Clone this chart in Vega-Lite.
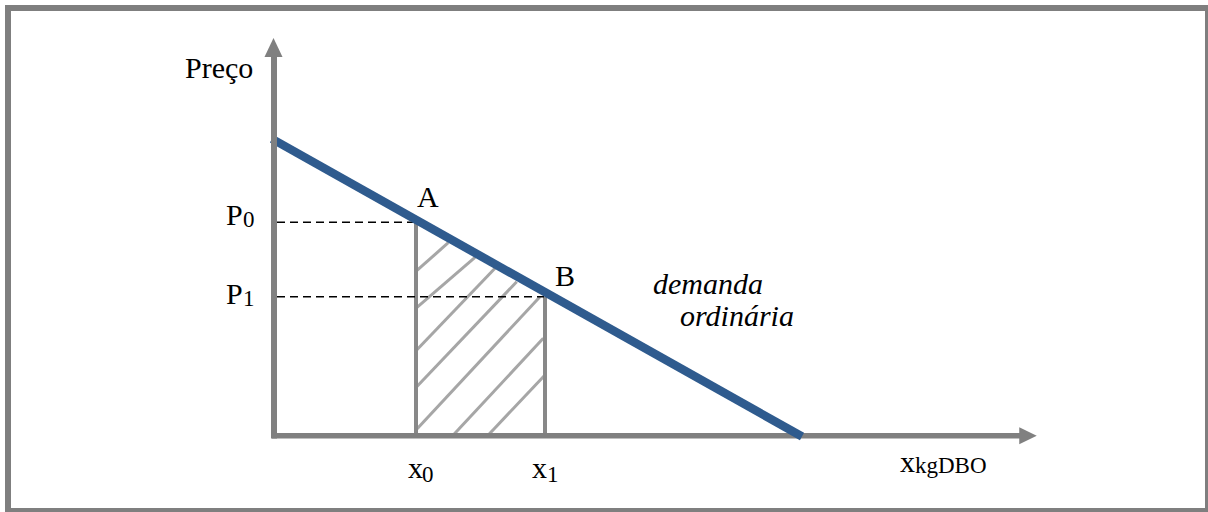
{
  "$schema": "https://vega.github.io/schema/vega-lite/v6.json",
  "width": 1208,
  "height": 512,
  "padding": 0,
  "autosize": {"type": "none"},
  "background": "white",
  "config": {"view": {"stroke": null}},
  "datasets": {
    "frame": [
      {"side": "left", "x": 8, "y": 5, "x2": 8, "y2": 512},
      {"side": "top", "x": 5, "y": 8, "x2": 1208, "y2": 8},
      {"side": "right", "x": 1206.5, "y": 5, "x2": 1206.5, "y2": 512},
      {"side": "bottom", "x": 5, "y": 510, "x2": 1208, "y2": 510}
    ],
    "hatch": [
      {"x": 416.7, "y": 270.7, "x2": 448.3, "y2": 242.7},
      {"x": 416.7, "y": 307.7, "x2": 475, "y2": 257.3},
      {"x": 416.7, "y": 350, "x2": 495, "y2": 268.3},
      {"x": 416.7, "y": 386.7, "x2": 516.7, "y2": 281.7},
      {"x": 416.7, "y": 429.3, "x2": 540, "y2": 296.7},
      {"x": 453.3, "y": 435, "x2": 543.3, "y2": 338.3},
      {"x": 488.3, "y": 435, "x2": 545, "y2": 375}
    ],
    "verticals": [
      {"x": 416, "y": 222, "x2": 416, "y2": 436},
      {"x": 545, "y": 296.7, "x2": 545, "y2": 436}
    ],
    "dashed": [
      {"x": 277, "y": 222.3, "x2": 415, "y2": 222.3},
      {"x": 277, "y": 296.7, "x2": 544, "y2": 296.7}
    ],
    "xaxis": [{"x": 272, "y": 435.8, "x2": 1020, "y2": 435.8}],
    "yaxis": [{"x": 274, "y": 438.5, "x2": 274, "y2": 56}],
    "demand": [{"x": 272, "y": 138.9, "x2": 802, "y2": 436.5}],
    "arrows": [
      {"dir": "up", "x": 273.5, "y": 47.5},
      {"dir": "right", "x": 1028, "y": 435.8}
    ],
    "labels": [
      {"label": "Preço", "x": 185, "y": 78},
      {"label": "P", "x": 226, "y": 225},
      {"label": "P", "x": 226, "y": 304},
      {"label": "A", "x": 417, "y": 207},
      {"label": "B", "x": 555, "y": 286},
      {"label": "x", "x": 408, "y": 478},
      {"label": "x", "x": 532, "y": 478},
      {"label": "x", "x": 900, "y": 472}
    ],
    "subscripts": [
      {"label": "0", "x": 243, "y": 227},
      {"label": "1", "x": 243, "y": 306},
      {"label": "0", "x": 422, "y": 482},
      {"label": "1", "x": 547, "y": 482},
      {"label": "kgDBO", "x": 915, "y": 473}
    ],
    "notes": [
      {"label": "demanda", "x": 653, "y": 294},
      {"label": "ordinária", "x": 680, "y": 326}
    ]
  },
  "encoding": {
    "x": {"field": "x", "type": "quantitative", "scale": {"domain": [0, 1208], "nice": false, "zero": false}, "axis": null},
    "y": {"field": "y", "type": "quantitative", "scale": {"domain": [0, 512], "reverse": true, "nice": false, "zero": false}, "axis": null}
  },
  "layer": [
    {
      "data": {"name": "frame"},
      "transform": [{"filter": "datum.side === 'left' || datum.side === 'top'"}],
      "mark": {"type": "rule", "color": "#7f7f7f", "strokeWidth": 6, "strokeCap": "butt"},
      "encoding": {"x2": {"field": "x2"}, "y2": {"field": "y2"}}
    },
    {
      "data": {"name": "frame"},
      "transform": [{"filter": "datum.side === 'right'"}],
      "mark": {"type": "rule", "color": "#7f7f7f", "strokeWidth": 3, "strokeCap": "butt"},
      "encoding": {"x2": {"field": "x2"}, "y2": {"field": "y2"}}
    },
    {
      "data": {"name": "frame"},
      "transform": [{"filter": "datum.side === 'bottom'"}],
      "mark": {"type": "rule", "color": "#7f7f7f", "strokeWidth": 4, "strokeCap": "butt"},
      "encoding": {"x2": {"field": "x2"}, "y2": {"field": "y2"}}
    },
    {
      "data": {"name": "hatch"},
      "mark": {"type": "rule", "color": "#a6a6a6", "strokeWidth": 3, "strokeCap": "butt"},
      "encoding": {"x2": {"field": "x2"}, "y2": {"field": "y2"}}
    },
    {
      "data": {"name": "verticals"},
      "mark": {"type": "rule", "color": "#888888", "strokeWidth": 4, "strokeCap": "butt"},
      "encoding": {"x2": {"field": "x2"}, "y2": {"field": "y2"}}
    },
    {
      "data": {"name": "dashed"},
      "mark": {"type": "rule", "color": "#000000", "strokeWidth": 1.6, "strokeDash": [8, 5], "strokeCap": "butt"},
      "encoding": {"x2": {"field": "x2"}, "y2": {"field": "y2"}}
    },
    {
      "data": {"name": "xaxis"},
      "mark": {"type": "rule", "color": "#808080", "strokeWidth": 5.5, "strokeCap": "butt"},
      "encoding": {"x2": {"field": "x2"}, "y2": {"field": "y2"}}
    },
    {
      "data": {"name": "demand"},
      "mark": {"type": "rule", "color": "#2f5b8e", "strokeWidth": 8.5, "strokeCap": "butt"},
      "encoding": {"x2": {"field": "x2"}, "y2": {"field": "y2"}}
    },
    {
      "data": {"name": "yaxis"},
      "mark": {"type": "rule", "color": "#808080", "strokeWidth": 6, "strokeCap": "butt"},
      "encoding": {"x2": {"field": "x2"}, "y2": {"field": "y2"}}
    },
    {
      "data": {"name": "arrows"},
      "transform": [{"filter": "datum.dir === 'up'"}],
      "mark": {"type": "point", "shape": "M0,-1L-0.95,1L0.95,1Z", "size": 361, "filled": true, "color": "#808080", "opacity": 1, "strokeWidth": 0}
    },
    {
      "data": {"name": "arrows"},
      "transform": [{"filter": "datum.dir === 'right'"}],
      "mark": {"type": "point", "shape": "M0.92,0L-0.92,-0.9L-0.92,0.9Z", "size": 361, "filled": true, "color": "#808080", "opacity": 1, "strokeWidth": 0}
    },
    {
      "data": {"name": "labels"},
      "mark": {"type": "text", "font": "Liberation Serif", "fontSize": 30, "align": "left", "baseline": "alphabetic", "color": "#000000"},
      "encoding": {"text": {"field": "label"}}
    },
    {
      "data": {"name": "subscripts"},
      "mark": {"type": "text", "font": "Liberation Serif", "fontSize": 23, "align": "left", "baseline": "alphabetic", "color": "#000000"},
      "encoding": {"text": {"field": "label"}}
    },
    {
      "data": {"name": "notes"},
      "mark": {"type": "text", "font": "Liberation Serif", "fontSize": 30, "fontStyle": "italic", "align": "left", "baseline": "alphabetic", "color": "#000000"},
      "encoding": {"text": {"field": "label"}}
    }
  ]
}
